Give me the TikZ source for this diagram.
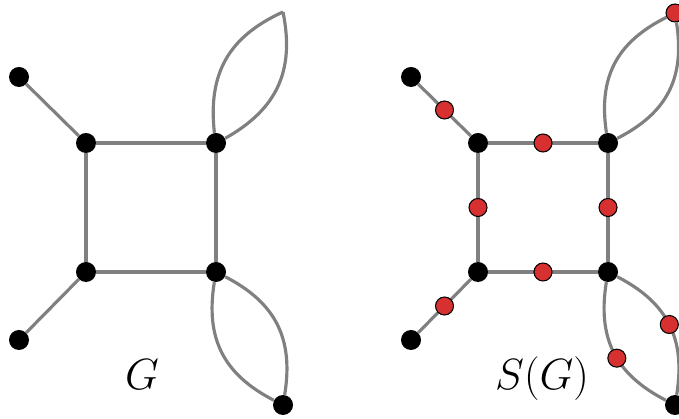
\documentclass[tikz,border=0pt]{standalone}
\definecolor{subred}{RGB}{214,48,48}
\definecolor{edgegray}{RGB}{128,128,128}
\begin{document}
\begin{tikzpicture}[vtx/.style={circle,fill=black,inner sep=0pt,minimum size=0.4cm},
  subv/.style={circle,fill=subred,draw=black,line width=0.6pt,inner sep=0pt,minimum size=0.36cm},
  edge/.style={draw=edgegray,line width=1.8pt},
  lens/.style={looseness=1.1},
  lbl/.style={font=\fontsize{25}{30}\selectfont,anchor=base}]
  \useasboundingbox (0,0) rectangle (13.58,8.38);
  \node[vtx] (a1) at (0.38,6.84) {};
  \node[vtx] (b1) at (1.72,5.52) {};
  \node[vtx] (c1) at (4.32,5.52) {};
  \node[vtx] (d1) at (1.72,2.94) {};
  \node[vtx] (e1) at (4.32,2.94) {};
  \node[vtx] (f1) at (0.38,1.58) {};
  \node[vtx] (g1) at (5.66,0.28) {};
  \coordinate (t1) at (5.66,8.14);
  \draw[edge] (a1) -- (b1);
  \draw[edge] (b1) -- (c1);
  \draw[edge] (b1) -- (d1);
  \draw[edge] (c1) -- (e1);
  \draw[edge] (d1) -- (e1);
  \draw[edge] (f1) -- (d1);
  \draw[edge] (c1) to[bend left=36,lens] (t1);
  \draw[edge] (c1) to[bend right=36,lens] (t1);
  \draw[edge] (e1) to[bend right=36,lens] (g1);
  \draw[edge] (e1) to[bend left=36,lens] (g1);
  \node[lbl] (lg) at (2.84,0.58) {$G$};
  \node[vtx] (a2) at (8.22,6.84) {};
  \node[vtx] (b2) at (9.56,5.52) {};
  \node[vtx] (c2) at (12.16,5.52) {};
  \node[vtx] (d2) at (9.56,2.94) {};
  \node[vtx] (e2) at (12.16,2.94) {};
  \node[vtx] (f2) at (8.22,1.58) {};
  \node[vtx] (g2) at (13.50,0.28) {};
  \node[subv] (t2) at (13.50,8.12) {};
  \draw[edge] (a2) -- node[subv] (s1) {} (b2);
  \draw[edge] (b2) -- node[subv] (s2) {} (c2);
  \draw[edge] (b2) -- node[subv] (s3) {} (d2);
  \draw[edge] (c2) -- node[subv] (s4) {} (e2);
  \draw[edge] (d2) -- node[subv] (s5) {} (e2);
  \draw[edge] (f2) -- node[subv] (s6) {} (d2);
  \draw[edge] (c2) to[bend left=36,lens] (t2);
  \draw[edge] (c2) to[bend right=36,lens] (t2);
  \draw[edge] (e2) to[bend right=36,lens] node[subv,pos=0.55] (s7) {} (g2);
  \draw[edge] (e2) to[bend left=36,lens] node[subv] (s8) {} (g2);
  \node[lbl] (lsg) at (10.84,0.58) {$S(G)$};
\end{tikzpicture}
\end{document}
